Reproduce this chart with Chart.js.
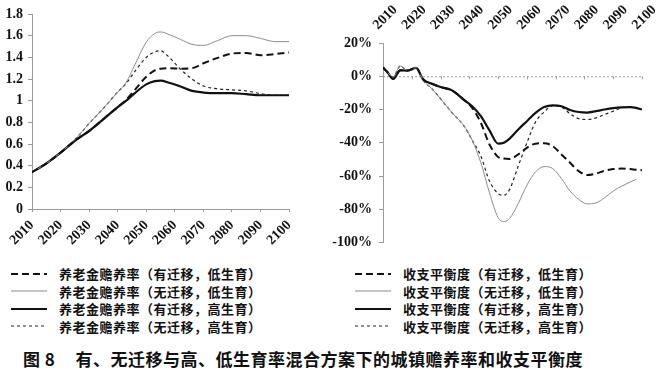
<!DOCTYPE html>
<html>
<head>
<meta charset="utf-8">
<script src="https://cdn.jsdelivr.net/npm/chart.js@4.4.0/dist/chart.umd.min.js"></script>
<style>
  body { margin: 0; width: 670px; height: 376px; background: #fff; position: relative; overflow: hidden;
         font-family: 'Noto Sans CJK SC', sans-serif; color: #111; }
  canvas { position: absolute; }
  #leftChart { left: 0; top: 0; }
  #rightChart { left: 330px; top: 0; }
  .legend { position: absolute; top: 265px; font-size: 13px; font-weight: 700; letter-spacing: 0.5px; }
  #legendL { left: 11px; }
  #legendR { left: 355px; }
  .row { height: 17.5px; display: flex; align-items: center; white-space: nowrap; }
  .row svg { margin-right: 12px; flex: none; }
  #caption { position: absolute; left: 23px; top: 346px; font-size: 17px; font-weight: 700;
             letter-spacing: 0.5px; white-space: nowrap; }
  #caption .gap { display: inline-block; width: 20px; }
</style>
</head>
<body>
<canvas id="leftChart" width="306" height="250"></canvas>
<canvas id="rightChart" width="340" height="258"></canvas>
<div class="legend" id="legendL"></div>
<div class="legend" id="legendR"></div>
<div id="caption">图 8<span class="gap"></span>有、无迁移与高、低生育率混合方案下的城镇赡养率和收支平衡度</div>
<script>
// ---- data ----
const yearLabels = ['2010', '2020', '2030', '2040', '2050', '2060', '2070', '2080', '2090', '2100'];
const leftTickLabels = ['0', '0.2', '0.4', '0.6', '0.8', '1', '1.2', '1.4', '1.6', '1.8'];
const rightTickLabels = ['-100%', '-80%', '-60%', '-40%', '-20%', '0%', '20%'];

const legendNamesL = [
  '养老金赡养率（有迁移，低生育）',
  '养老金赡养率（无迁移，低生育）',
  '养老金赡养率（有迁移，高生育）',
  '养老金赡养率（无迁移，高生育）'
];
const legendNamesR = [
  '收支平衡度（有迁移，低生育）',
  '收支平衡度（无迁移，低生育）',
  '收支平衡度（有迁移，高生育）',
  '收支平衡度（无迁移，高生育）'
];

// left panel: dependency ratio
const yearsL = [2010, 2015, 2020, 2025, 2030, 2035, 2040, 2043, 2046, 2050, 2053, 2055, 2058, 2062, 2066, 2070, 2075, 2080, 2085, 2090, 2095, 2100];
const ratioMigLow   = [0.34, 0.42, 0.52, 0.63, 0.72, 0.83, 0.94, 1.01, 1.10, 1.22, 1.28, 1.295, 1.30, 1.295, 1.30, 1.345, 1.395, 1.435, 1.44, 1.42, 1.43, 1.445];
const ratioNoMigLow = [0.34, 0.42, 0.52, 0.64, 0.79, 0.93, 1.08, 1.17, 1.33, 1.54, 1.62, 1.635, 1.61, 1.565, 1.52, 1.51, 1.555, 1.60, 1.60, 1.575, 1.545, 1.545];
const ratioMigHigh  = [0.34, 0.42, 0.52, 0.63, 0.72, 0.83, 0.94, 1.00, 1.07, 1.15, 1.18, 1.185, 1.165, 1.13, 1.09, 1.075, 1.07, 1.07, 1.06, 1.05, 1.05, 1.05];
const ratioNoMigHigh = [0.34, 0.42, 0.52, 0.64, 0.79, 0.93, 1.08, 1.16, 1.27, 1.40, 1.45, 1.46, 1.40, 1.29, 1.20, 1.135, 1.11, 1.10, 1.09, 1.065, 1.05, 1.05];

// right panel: balance (%)
const yearsR = [2010, 2011.5, 2013.5, 2016, 2018.5, 2021.5, 2024, 2027, 2030, 2034, 2038, 2041, 2044, 2047, 2050, 2052, 2054, 2057, 2060, 2063, 2066, 2069, 2072, 2075, 2078, 2081, 2084, 2087, 2090, 2093, 2096, 2098, 2100];
const balMigLow   = [5.2, 2.5, -1.6, 3.6, 3.4, 5, -2, -4.5, -6.5, -8.5, -14, -19, -28, -41, -48.5, -49.5, -49.7, -47, -43, -40.5, -40.3, -42, -47, -52, -57, -59.4, -58.5, -56.8, -55.8, -55.5, -55.8, -56.2, -56.5];
const balNoMigLow = [5.2, 2.5, -0.5, 6.2, 3.6, 5.2, -2.5, -7.5, -13.5, -22, -29.5, -38.5, -52, -70, -85, -87.3, -85.5, -76.5, -65.5, -57.5, -54.3, -55.5, -61.5, -69, -74, -76.7, -76.2, -73, -69, -66, -63.5, -62, null];
const balMigHigh  = [5.2, 2.5, -1.6, 3.6, 3.4, 5, -2, -4.5, -6.5, -8.5, -14, -18, -24, -32.5, -40.5, -40, -37.5, -32, -27, -22, -18.5, -17.5, -18, -20.3, -21.5, -21.8, -21, -20, -19.2, -18.7, -18.5, -19, -20];
const balNoMigHigh = [5.2, 2.5, -0.5, 6.2, 3.6, 5.2, -2.5, -7.5, -13.5, -22, -29.5, -38.5, -48, -63, -70.5, -71.5, -68, -54, -40, -27.5, -21.5, -17.6, -18.5, -22.5, -25.5, -26, -25, -23, -21, -18.8, null, null, null];

// line styles, same order as the legend
const lineStyles = [
  { color: '#111', width: 2, dash: [7, 4] },
  { color: '#8c8c8c', width: 1, dash: [] },
  { color: '#111', width: 2.2, dash: [] },
  { color: '#222', width: 1.2, dash: [3, 3] }
];

const tickFont = { family: "'Liberation Serif', serif", size: 14, weight: 'bold' };
const axisGray = '#9a9a9a';

function toPoints(xs, ys) {
  return xs.map((x, i) => ({ x: x, y: ys[i] }));
}

function makeDatasets(xs, seriesList, names) {
  return seriesList.map((s, i) => ({
    label: names[i],
    data: toPoints(xs, s),
    borderColor: lineStyles[i].color,
    borderWidth: lineStyles[i].width,
    borderDash: lineStyles[i].dash,
    pointRadius: 0,
    fill: false,
    cubicInterpolationMode: 'monotone',
    spanGaps: false
  }));
}

// dotted 0% line with small tick marks on the right panel
const zeroLineTicks = {
  id: 'zeroLineTicks',
  beforeDatasetsDraw(chart) {
    const x = chart.scales.x, y = chart.scales.y;
    const y0 = y.getPixelForValue(0);
    const ctx = chart.ctx;
    ctx.save();
    ctx.strokeStyle = axisGray;
    ctx.lineWidth = 1;
    ctx.setLineDash([2, 2]);
    ctx.beginPath();
    ctx.moveTo(x.left, y0 + 0.5);
    ctx.lineTo(x.right, y0 + 0.5);
    ctx.stroke();
    ctx.setLineDash([]);
    x.ticks.forEach(t => {
      const px = Math.round(x.getPixelForValue(t.value)) + 0.5;
      ctx.beginPath();
      ctx.moveTo(px, y0);
      ctx.lineTo(px, y0 + 3);
      ctx.stroke();
    });
    ctx.restore();
  }
};

// year labels above the right panel, slanted upward from each tick
const topYearLabels = {
  id: 'topYearLabels',
  afterDraw(chart) {
    const x = chart.scales.x;
    const ctx = chart.ctx;
    ctx.save();
    ctx.font = 'bold 14px "Liberation Serif", serif';
    ctx.fillStyle = '#111';
    ctx.textAlign = 'left';
    ctx.textBaseline = 'alphabetic';
    x.ticks.forEach((t, i) => {
      const px = x.getPixelForValue(t.value);
      ctx.save();
      ctx.translate(px - 5, x.bottom - 13);
      ctx.rotate(-Math.PI / 4);
      ctx.fillText(yearLabels[i], 0, 0);
      ctx.restore();
    });
    ctx.restore();
  }
};

Chart.defaults.animation = false;
Chart.defaults.color = '#111';

new Chart(document.getElementById('leftChart'), {
  type: 'line',
  data: { datasets: makeDatasets(yearsL, [ratioMigLow, ratioNoMigLow, ratioMigHigh, ratioNoMigHigh], legendNamesL) },
  options: {
    responsive: false,
    layout: { padding: { top: 14, right: 6, left: 0, bottom: 0 } },
    plugins: { legend: { display: false }, tooltip: { enabled: false } },
    scales: {
      x: {
        type: 'linear', min: 2010, max: 2100,
        border: { display: true, color: axisGray, dash: [2, 2] },
        grid: { drawOnChartArea: false, drawTicks: true, tickLength: 3, color: axisGray, tickBorderDash: [] },
        ticks: { stepSize: 10, autoSkip: false, minRotation: 45, maxRotation: 45, padding: 5,
                 font: tickFont, color: '#111', callback: (v, i) => yearLabels[i] },
        afterFit: s => { s.height = 41; }
      },
      y: {
        min: 0, max: 1.8,
        border: { display: true, color: axisGray, dash: [2, 2] },
        grid: { drawOnChartArea: false, drawTicks: true, tickLength: 4, color: axisGray, tickBorderDash: [] },
        ticks: { stepSize: 0.2, padding: 5, font: tickFont, color: '#111', callback: (v, i) => leftTickLabels[i] },
        afterFit: s => { s.width = 32; }
      }
    }
  }
});

new Chart(document.getElementById('rightChart'), {
  type: 'line',
  data: { datasets: makeDatasets(yearsR, [balMigLow, balNoMigLow, balMigHigh, balNoMigHigh], legendNamesR) },
  options: {
    responsive: false,
    layout: { padding: { top: 0, right: 28, left: 0, bottom: 8 } },
    plugins: { legend: { display: false }, tooltip: { enabled: false } },
    scales: {
      x: {
        type: 'linear', position: 'top', min: 2010, max: 2100,
        border: { display: false },
        grid: { display: false },
        ticks: { stepSize: 10, autoSkip: false, display: false },
        afterFit: s => { s.height = 43; }
      },
      y: {
        min: -100, max: 20,
        border: { display: true, color: axisGray, dash: [2, 2] },
        grid: { drawOnChartArea: false, drawTicks: true, tickLength: 4, color: axisGray, tickBorderDash: [] },
        ticks: { stepSize: 20, padding: 7, font: tickFont, color: '#111', callback: (v, i) => rightTickLabels[i] },
        afterFit: s => { s.width = 53; }
      }
    }
  },
  plugins: [zeroLineTicks, topYearLabels]
});

// legends, built from the same names and styles
function buildLegend(el, names) {
  names.forEach((name, i) => {
    const st = lineStyles[i];
    const row = document.createElement('div');
    row.className = 'row';
    row.innerHTML =
      '<svg width="36" height="6"><line x1="0" y1="3" x2="36" y2="3" stroke="' + st.color +
      '" stroke-width="' + st.width + '" stroke-dasharray="' + (st.dash.length ? st.dash.join(' ') : 'none') +
      '"/></svg><span>' + name + '</span>';
    el.appendChild(row);
  });
}
buildLegend(document.getElementById('legendL'), legendNamesL);
buildLegend(document.getElementById('legendR'), legendNamesR);
</script>
</body>
</html>
